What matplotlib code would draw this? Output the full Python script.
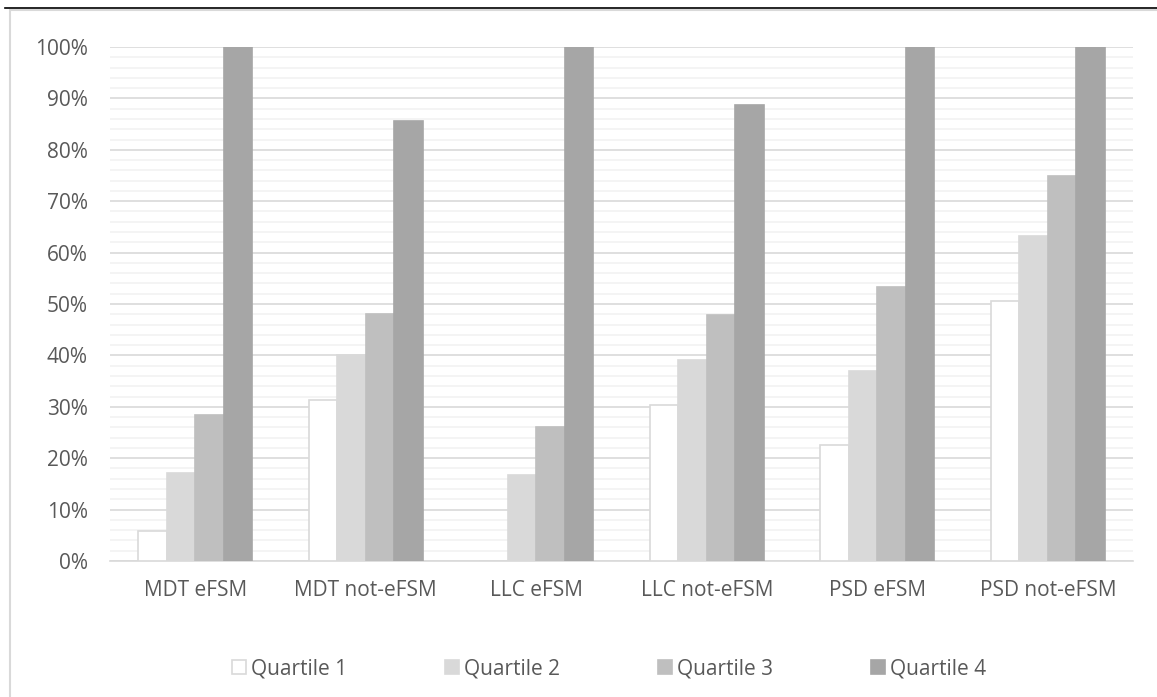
import numpy as np
import matplotlib
matplotlib.use("Agg")
import matplotlib.pyplot as plt
from matplotlib.patches import Rectangle
from matplotlib.lines import Line2D

plt.rcParams['font.family'] = ['Open Sans', 'DejaVu Sans']

categories = ["MDT eFSM", "MDT not-eFSM", "LLC eFSM", "LLC not-eFSM", "PSD eFSM", "PSD not-eFSM"]
series_names = ["Quartile 1", "Quartile 2", "Quartile 3", "Quartile 4"]
q1 = [5.8, 31.3, 0.0, 30.4, 22.6, 50.6]
q2 = [17.2, 40.1, 16.7, 39.2, 37.0, 63.3]
q3 = [28.5, 48.0, 26.0, 47.8, 53.3, 75.0]
q4 = [100.0, 85.7, 100.0, 88.8, 100.0, 100.0]
values = [q1, q2, q3, q4]
colors = ["#ffffff", "#d9d9d9", "#bfbfbf", "#a6a6a6"]
edges = ["#d9d9d9", "#d9d9d9", "#bfbfbf", "#a6a6a6"]
txt = "#595959"

fig = plt.figure(figsize=(11.57, 6.97), dpi=100)
ax = fig.add_axes([110/1157, 1 - 561/697, 1023/1157, (561 - 47)/697])

x = np.arange(len(categories))
w = 0.167
for i, vals in enumerate(values):
    ax.bar(x + (i - 1.5) * w, vals, width=w, color=colors[i], edgecolor=edges[i],
           linewidth=1.2, zorder=3, label=series_names[i])

ax.set_xlim(-0.5, len(categories) - 0.5)
ax.set_ylim(0, 100)
ax.set_yticks(np.arange(0, 101, 10))
ax.set_yticklabels([f"{v}%" for v in range(0, 101, 10)])
ax.set_yticks(np.arange(0, 101, 2), minor=True)
ax.grid(axis='y', which='minor', color='#f2f2f2', linewidth=1.2, zorder=0)
ax.grid(axis='y', which='major', color='#d9d9d9', linewidth=1.2, zorder=1)
ax.set_xticks(x)
ax.set_xticklabels(categories)
for s in ['top', 'right', 'left']:
    ax.spines[s].set_visible(False)
ax.spines['bottom'].set_color('#d9d9d9')
ax.spines['bottom'].set_linewidth(1.2)
ax.spines['bottom'].set_zorder(2)
ax.tick_params(axis='both', which='both', length=0, colors=txt, labelsize=15)
ax.tick_params(axis='y', pad=16)
ax.tick_params(axis='x', pad=14)

leg = fig.legend(loc='center', bbox_to_anchor=(609/1157, 1 - 669/697), ncol=4, frameon=False,
                 fontsize=15, handlelength=0.67, handleheight=0.67, handletextpad=0.25,
                 columnspacing=4.7, labelcolor=txt)

# chart frame and top document line
fig.add_artist(Rectangle((10/1157, -0.05), 1.2, 1 - 10/697 + 0.05, transform=fig.transFigure,
                         fill=False, edgecolor='#d9d9d9', linewidth=1.5))
fig.add_artist(Line2D([5/1157, 1], [1 - 8/697, 1 - 8/697], transform=fig.transFigure,
                      color='black', linewidth=1.2))

fig.savefig("out.png", dpi=100)
